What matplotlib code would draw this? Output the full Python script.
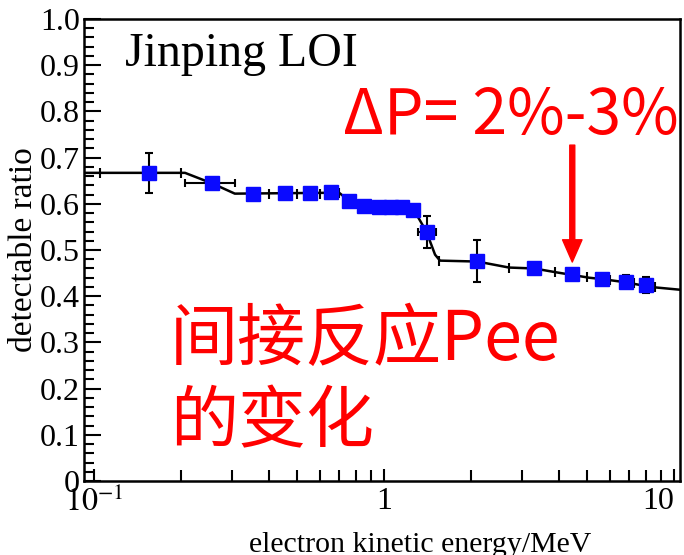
import numpy as np
import matplotlib
matplotlib.use("Agg")
import matplotlib.pyplot as plt
from matplotlib.ticker import FixedLocator, FuncFormatter, MultipleLocator, NullFormatter

# ─────────────────────────────────────────────
# Dados
# ─────────────────────────────────────────────

# curva esperada (razão detectável vs energia cinética)
curve_energy = [0.0924, 0.206, 0.256, 0.306, 0.70, 0.74, 0.80, 0.90, 1.25, 1.30,
                1.40, 1.50, 1.56, 2.10, 2.70, 3.30, 3.90, 4.46, 5.10, 5.66,
                6.83, 8.30, 10.49]
curve_ratio = [0.667, 0.667, 0.644, 0.622, 0.624, 0.612, 0.600, 0.593, 0.588, 0.575,
               0.540, 0.490, 0.477, 0.475, 0.462, 0.460, 0.452, 0.446, 0.440, 0.437,
               0.430, 0.420, 0.414]

# bordas dos bins da curva (barras horizontais)
cap_energy = [0.105, 0.2, 0.4, 0.5, 0.6, 0.7, 0.8, 0.9, 1.55, 2.7, 3.9, 5.0, 6.0, 7.3, 8.6]
cap_ratio = [0.667, 0.667, 0.622, 0.622, 0.622, 0.624, 0.600, 0.593,
             0.477, 0.462, 0.452, 0.441, 0.436, 0.428, 0.419]

# pontos medidos
point_energy = [0.155, 0.256, 0.354, 0.457, 0.556, 0.656, 0.759, 0.855, 0.961, 1.057,
                1.156, 1.256, 1.403, 2.10, 3.30, 4.46, 5.66, 6.83, 8.0]
point_ratio = [0.666, 0.644, 0.622, 0.623, 0.624, 0.626, 0.607, 0.595, 0.592, 0.592,
               0.592, 0.586, 0.539, 0.476, 0.460, 0.447, 0.438, 0.431, 0.424]
point_yerr = [0.043, 0.0, 0.0, 0.0, 0.0, 0.0, 0.0, 0.0, 0.0, 0.0,
              0.0, 0.0, 0.034, 0.045, 0.012, 0.012, 0.008, 0.014, 0.017]
point_xerr_lo = [0.0, 0.05, 0, 0, 0, 0, 0, 0, 0, 0, 0, 0, 0.09, 0, 0, 0, 0, 0, 0]
point_xerr_hi = [0.0, 0.05, 0, 0, 0, 0, 0, 0, 0, 0, 0, 0, 0.11, 0, 0, 0, 0, 0, 0]

y_ticks = [0.0, 0.1, 0.2, 0.3, 0.4, 0.5, 0.6, 0.7, 0.8, 0.9, 1.0]
x_ticks = [0.1, 1, 10]
x_tick_labels = ["$10^{-1}$", "1", "10"]

arrow_energy = 4.46
arrow_from, arrow_to = 0.727, 0.474

# ─────────────────────────────────────────────
# Estilo
# ─────────────────────────────────────────────
plt.rcParams["font.family"] = ["Liberation Serif", "DejaVu Serif"]
plt.rcParams["mathtext.fontset"] = "stix"
cjk = ["Noto Sans CJK SC", "DejaVu Sans"]

fig = plt.figure(figsize=(6.84, 5.55), dpi=100)
ax = fig.add_axes([84 / 684, 1 - 481 / 555, 596 / 684, 462 / 555])

ax.plot(curve_energy, curve_ratio, color="black", lw=1.8, zorder=2)
ax.plot(cap_energy, cap_ratio, ls="none", marker="|", ms=7, mew=1.5,
        color="black", zorder=2)

ax.errorbar(point_energy, point_ratio, yerr=point_yerr,
            xerr=[point_xerr_lo, point_xerr_hi], fmt="none",
            ecolor="black", elinewidth=1.5, capsize=3, capthick=1.5, zorder=3)
ax.plot(point_energy, point_ratio, ls="none", marker="s", ms=9.5,
        color="#0a0aff", mec="#0a0aff", zorder=4)

ax.set_xscale("log")
ax.set_xlim(0.0924, 10.49)
ax.set_ylim(0, 1)

ax.xaxis.set_major_locator(FixedLocator(x_ticks))
ax.set_xticklabels(x_tick_labels)
ax.xaxis.set_minor_formatter(NullFormatter())
ax.yaxis.set_major_locator(FixedLocator(y_ticks))
ax.yaxis.set_minor_locator(MultipleLocator(0.02))
ax.yaxis.set_major_formatter(FuncFormatter(lambda v, _: "0" if v == 0 else f"{v:.1f}"))

ax.tick_params(axis="both", which="both", direction="in", labelsize=23,
               top=False, right=False, width=1.5)
ax.tick_params(axis="y", which="major", length=12, pad=3)
ax.tick_params(axis="y", which="minor", length=7)
ax.tick_params(axis="x", which="major", length=9, pad=4)
ax.tick_params(axis="x", which="minor", length=8)
ax.get_xticklabels()[-1].set_ha("right")
for spine in ax.spines.values():
    spine.set_linewidth(1.8)

ax.set_ylabel("detectable ratio", fontsize=24)
ax.yaxis.set_label_coords(-0.075, 0.5)
ax.set_xlabel("electron kinetic energy/MeV", fontsize=21.5)
ax.xaxis.set_label_coords(0.564, -0.110)

# textos
ax.text(0.069, 0.898, "Jinping LOI", transform=ax.transAxes, fontsize=34.5,
        va="baseline", ha="left")
ax.text(0.4346, 0.751, "ΔP= 2%-3%", transform=ax.transAxes, fontsize=45,
        family=cjk, color="red", va="baseline", ha="left", clip_on=False)
ax.text(0.144, 0.262, "间接反应Pee", transform=ax.transAxes, fontsize=49,
        family=cjk, color="red", va="baseline", ha="left")
ax.text(0.144, 0.084, "的变化", transform=ax.transAxes, fontsize=49,
        family=cjk, color="red", va="baseline", ha="left")

ax.annotate("", xy=(arrow_energy, arrow_to), xytext=(arrow_energy, arrow_from),
            arrowprops=dict(facecolor="red", edgecolor="red", width=3.6,
                            headwidth=14, headlength=16, shrink=0))

fig.savefig("out.png", dpi=100)
